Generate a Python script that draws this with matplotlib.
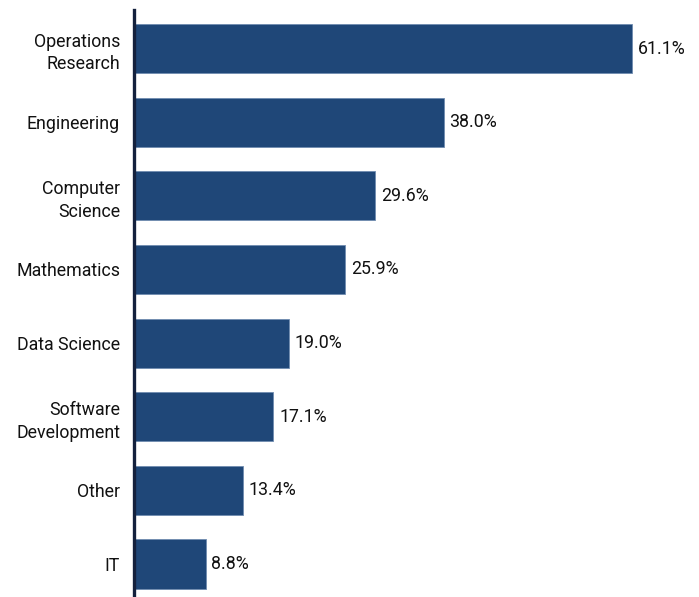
import matplotlib.pyplot as plt
import numpy as np

plt.rcParams['font.family'] = ['Roboto', 'DejaVu Sans']

categories = ["Operations\nResearch", "Engineering", "Computer\nScience", "Mathematics",
              "Data Science", "Software\nDevelopment", "Other", "IT"]
values = [61.1, 38.0, 29.6, 25.9, 19.0, 17.1, 13.4, 8.8]

fig = plt.figure(figsize=(6.99, 5.97), dpi=100)
ax = fig.add_axes([134 / 699, 0, 565 / 699, 587 / 597])

y = np.arange(len(values))
ax.barh(y, values, height=0.666, color='#1f4778', edgecolor='#6f8cb0', linewidth=0.6)

for yi, v in zip(y, values):
    ax.text(v + 0.7, yi, f"{v:.1f}%", va='center', ha='left', fontsize=12.8, color='#111111')

ax.set_xlim(0, 565 / 8.15)
ax.set_ylim(7.448, -0.523)
ax.set_yticks(y)
ax.set_yticklabels(categories, fontsize=12.8, color='#111111', linespacing=1.35)
ax.tick_params(axis='y', length=0, pad=10)
ax.set_xticks([])

for s in ['top', 'right', 'bottom']:
    ax.spines[s].set_visible(False)
ax.spines['left'].set_color('#14213d')
ax.spines['left'].set_linewidth(2.4)

fig.savefig('out.png', dpi=100)
